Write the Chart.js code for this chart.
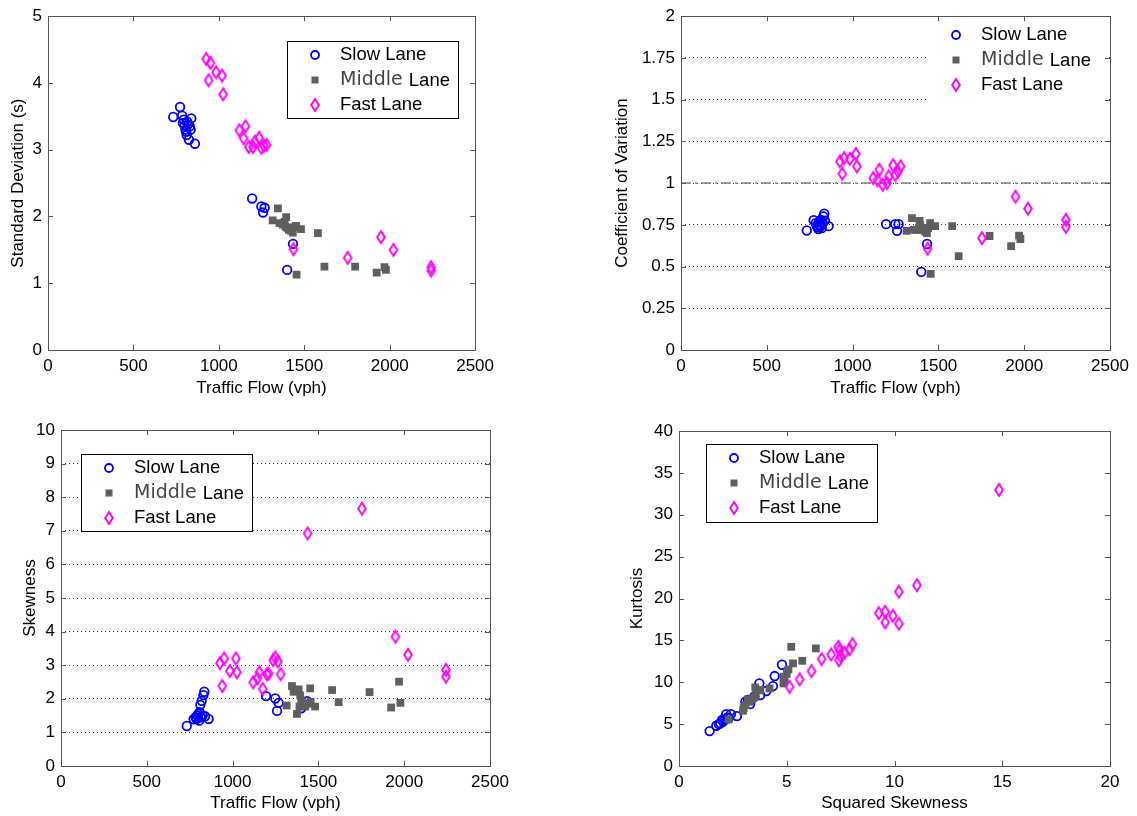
<!DOCTYPE html>
<html>
<head>
<meta charset="utf-8">
<script src="https://cdn.jsdelivr.net/npm/chart.js@4/dist/chart.umd.min.js"></script>
<style>
  body { margin: 0; background: #fff; }
  #wrap { position: relative; width: 1137px; height: 816px; background: #fff; overflow: hidden; }
  canvas { position: absolute; }
</style>
</head>
<body>
<div id="wrap">
  <canvas id="sdChart" width="500" height="400" style="left:0;top:0;width:500px;height:400px"></canvas>
  <canvas id="cvChart" width="537" height="400" style="left:600px;top:0;width:537px;height:400px"></canvas>
  <canvas id="skewChart" width="520" height="406" style="left:0;top:410px;width:520px;height:406px"></canvas>
  <canvas id="kurtChart" width="517" height="406" style="left:620px;top:410px;width:517px;height:406px"></canvas>
</div>
<script>
const laneNames = ['Slow Lane', 'Middle Lane', 'Fast Lane'];

// tick labels
const flowTicks = [0, 500, 1000, 1500, 2000, 2500];
const sdTicks = [0, 1, 2, 3, 4, 5];
const cvTicks = [0, 0.25, 0.5, 0.75, 1, 1.25, 1.5, 1.75, 2];
const skewTicks = [0, 1, 2, 3, 4, 5, 6, 7, 8, 9, 10];
const sqSkewTicks = [0, 5, 10, 15, 20];
const kurtTicks = [0, 5, 10, 15, 20, 25, 30, 35, 40];

// traffic flow (vph) of each sample
const slowFlow = [733, 773, 785, 790, 795, 800, 805, 808, 812, 815, 820, 825, 830, 835, 839, 860, 1195, 1249, 1259, 1268, 1400, 1434];
const middleFlow = [1315, 1346, 1355, 1375, 1385, 1390, 1394, 1400, 1410, 1423, 1433, 1440, 1452, 1455, 1481, 1580, 1618, 1798, 1924, 1970, 1978];
const fastFlow = [926, 940, 951, 984, 1019, 1025, 1120, 1145, 1156, 1175, 1200, 1210, 1236, 1249, 1264, 1280, 1437, 1754, 1949, 2022, 2243, 2243];

// standard deviation (s)
const slowSD = [3.49, 3.64, 3.51, 3.40, 3.45, 3.36, 3.30, 3.27, 3.22, 3.42, 3.38, 3.15, 3.35, 3.30, 3.47, 3.09, 2.27, 2.15, 2.06, 2.13, 1.20, 1.59];
const middleSD = [1.94, 2.12, 1.90, 1.88, 1.92, 1.85, 1.99, 1.83, 1.80, 1.79, 1.76, 1.84, 1.86, 1.13, 1.81, 1.75, 1.25, 1.25, 1.16, 1.24, 1.20];
const fastSD = [4.36, 4.04, 4.30, 4.16, 4.11, 3.83, 3.29, 3.17, 3.35, 3.04, 3.04, 3.12, 3.18, 3.03, 3.06, 3.07, 1.51, 1.38, 1.69, 1.50, 1.24, 1.19];

// coefficient of variation
const slowCV = [0.716, 0.778, 0.760, 0.745, 0.735, 0.725, 0.770, 0.750, 0.740, 0.780, 0.730, 0.760, 0.800, 0.817, 0.775, 0.742, 0.754, 0.754, 0.714, 0.754, 0.468, 0.635];
const middleCV = [0.714, 0.790, 0.720, 0.720, 0.730, 0.774, 0.750, 0.720, 0.730, 0.710, 0.700, 0.730, 0.760, 0.456, 0.742, 0.742, 0.563, 0.683, 0.623, 0.685, 0.665];
const fastCV = [1.13, 1.056, 1.15, 1.145, 1.175, 1.10, 1.03, 1.016, 1.08, 0.99, 1.00, 1.04, 1.107, 1.05, 1.07, 1.10, 0.607, 0.67, 0.919, 0.847, 0.78, 0.738];
const cvRefX = [0, 2500];
const cvRefY = [1, 1];

// skewness
const slowSkew = [1.19, 1.39, 1.45, 1.40, 1.50, 1.55, 1.35, 1.60, 1.82, 1.45, 1.94, 1.50, 2.11, 2.21, 1.48, 1.40, 2.08, 2.01, 1.64, 1.88, 1.72, 1.93];
const middleSkew = [1.80, 2.38, 2.21, 1.55, 2.28, 1.77, 2.10, 1.95, 1.80, 1.77, 1.87, 1.85, 2.31, 1.91, 1.77, 2.26, 1.90, 2.20, 1.74, 2.51, 1.88];
const fastSkew = [3.06, 2.38, 3.20, 2.83, 3.20, 2.79, 2.49, 2.61, 2.79, 2.29, 2.73, 2.75, 3.15, 3.23, 3.11, 2.73, 6.92, 7.66, 3.85, 3.31, 2.86, 2.66];

// squared skewness vs kurtosis
const slowSqSkew = [1.42, 1.73, 1.85, 1.92, 2.00, 2.05, 2.10, 2.19, 2.25, 2.30, 2.41, 2.69, 3.08, 3.20, 3.30, 3.50, 3.73, 3.77, 4.05, 4.36, 4.44, 4.78];
const slowKurt = [4.17, 4.81, 5.00, 5.09, 5.49, 5.30, 5.60, 6.20, 5.80, 5.70, 6.20, 5.96, 7.67, 7.90, 7.40, 8.30, 9.86, 8.47, 8.95, 9.54, 10.74, 12.09];
const middleSqSkew = [2.30, 2.97, 3.00, 3.08, 3.19, 3.30, 3.40, 3.54, 3.54, 3.60, 3.77, 4.20, 4.85, 4.85, 4.90, 5.00, 5.08, 5.21, 5.29, 5.72, 6.35];
const middleKurt = [5.57, 6.60, 6.90, 7.28, 7.95, 7.67, 8.00, 8.27, 9.38, 9.00, 9.07, 9.26, 9.86, 10.66, 10.20, 11.00, 11.53, 14.23, 12.25, 12.56, 14.04];
const fastSqSkew = [5.13, 5.60, 6.15, 6.62, 7.06, 7.39, 7.42, 7.45, 7.50, 7.68, 7.91, 8.05, 9.27, 9.57, 9.57, 9.92, 10.20, 10.20, 11.04, 14.85];
const fastKurt = [9.46, 10.34, 11.33, 12.76, 13.32, 14.23, 12.64, 13.80, 13.10, 13.52, 13.92, 14.55, 18.25, 18.41, 17.14, 17.93, 20.80, 16.98, 21.59, 32.96];

const FONT = { family: '"Liberation Sans", Arial, sans-serif', size: 17 };

// matlab style diamond, taller than wide
let diamond = document.createElement('canvas');
diamond.width = 12;
diamond.height = 16;
let dc = diamond.getContext('2d');
dc.strokeStyle = '#ff00ff';
dc.lineWidth = 2;
dc.beginPath();
dc.moveTo(6, 2);
dc.lineTo(9.8, 8);
dc.lineTo(6, 14);
dc.lineTo(2.2, 8);
dc.closePath();
dc.stroke();

function pts(xs, ys) {
  return xs.map((x, i) => ({ x: x, y: ys[i] }));
}

function lanes(sx, sy, mx, my, fx, fy) {
  return [
    { label: laneNames[0], data: pts(sx, sy), order: 3, pointStyle: 'circle', pointRadius: 4.3,
      pointBorderWidth: 1.8, pointBorderColor: '#0000ff', pointBackgroundColor: 'rgba(0,0,0,0)' },
    { label: laneNames[1], data: pts(mx, my), order: 2, pointStyle: 'rect', pointRadius: 5.5,
      pointBorderWidth: 0, pointBorderColor: '#5f5f5f', pointBackgroundColor: '#5f5f5f' },
    { label: laneNames[2], data: pts(fx, fy), order: 1, pointStyle: diamond, pointRadius: 5,
      pointBorderWidth: 0, pointBorderColor: '#ff00ff', pointBackgroundColor: '#ff00ff' }
  ];
}

const laneLegend = {
  id: 'laneLegend',
  afterDatasetsDraw(chart, args, o) {
    let ctx = chart.ctx;
    ctx.save();
    ctx.fillStyle = '#fff';
    ctx.fillRect(o.x, o.y, o.w, o.h);
    if (o.border) {
      ctx.strokeStyle = '#000';
      ctx.lineWidth = 1;
      ctx.strokeRect(o.x + 0.5, o.y + 0.5, o.w, o.h);
    }
    ctx.textBaseline = 'middle';
    laneNames.forEach((name, i) => {
      let y = o.y + o.row0 + i * 25;
      let mx = o.x + 28;
      let tx = o.x + 53;
      if (i == 0) {
        ctx.strokeStyle = '#0000ff';
        ctx.lineWidth = 1.8;
        ctx.beginPath();
        ctx.arc(mx, y, 4, 0, Math.PI * 2);
        ctx.stroke();
      } else if (i == 1) {
        ctx.fillStyle = '#5f5f5f';
        ctx.fillRect(mx - 3.5, y - 3.5, 7, 7);
      } else {
        ctx.drawImage(diamond, mx - 6, y - 8);
      }
      let parts = name.split(' ');
      if (i == 1) {
        // the word Middle comes out grey and in another face in the original
        ctx.font = '19px "DejaVu Sans", sans-serif';
        ctx.fillStyle = '#444';
        ctx.fillText(parts[0], tx, y);
        tx += ctx.measureText(parts[0] + ' ').width;
        ctx.font = '18.5px "Liberation Sans", Arial, sans-serif';
        ctx.fillStyle = '#000';
        ctx.fillText(parts[1], tx, y + 1);
      } else {
        ctx.font = '18.5px "Liberation Sans", Arial, sans-serif';
        ctx.fillStyle = '#000';
        ctx.fillText(name, tx, y);
      }
    });
    ctx.restore();
  }
};

const boxTicks = {
  id: 'boxTicks',
  afterDraw(chart) {
    let ctx = chart.ctx;
    let a = chart.chartArea;
    let x = chart.scales.x;
    let y = chart.scales.y;
    ctx.save();
    ctx.strokeStyle = '#555';
    ctx.lineWidth = 1;
    ctx.beginPath();
    x.ticks.forEach(t => {
      let px = Math.round(x.getPixelForValue(t.value)) + 0.5;
      ctx.moveTo(px, a.bottom); ctx.lineTo(px, a.bottom - 5);
      ctx.moveTo(px, a.top); ctx.lineTo(px, a.top + 5);
    });
    y.ticks.forEach(t => {
      let py = Math.round(y.getPixelForValue(t.value)) + 0.5;
      ctx.moveTo(a.left, py); ctx.lineTo(a.left + 5, py);
      ctx.moveTo(a.right, py); ctx.lineTo(a.right - 5, py);
    });
    ctx.stroke();
    ctx.strokeRect(Math.round(a.left) + 0.5, Math.round(a.top) + 0.5, Math.round(a.right - a.left), Math.round(a.bottom - a.top));
    ctx.restore();
  }
};

function makeChart(id, o) {
  return new Chart(document.getElementById(id), {
    type: 'scatter',
    data: { datasets: o.datasets },
    options: {
      responsive: false,
      animation: false,
      devicePixelRatio: 1,
      layout: { padding: o.padding },
      plugins: { legend: { display: false }, tooltip: { enabled: false }, laneLegend: o.legend },
      scales: {
        x: {
          type: 'linear', min: o.xTicks[0], max: o.xTicks[o.xTicks.length - 1],
          afterBuildTicks: s => { s.ticks = o.xTicks.map(v => ({ value: v })) },
          afterFit: s => { s.height = 50 },
          grid: { display: false, drawTicks: false },
          border: { display: false },
          ticks: { color: '#000', font: FONT, padding: 6, maxRotation: 0, autoSkip: false, callback: v => String(v) },
          title: { display: true, text: o.xTitle, color: '#000', font: FONT, padding: { top: 0, bottom: o.xTitlePad } }
        },
        y: {
          type: 'linear', min: o.yTicks[0], max: o.yTicks[o.yTicks.length - 1],
          afterBuildTicks: s => { s.ticks = o.yTicks.map(v => ({ value: v })) },
          afterFit: s => { s.width = o.yAxisW },
          grid: { display: o.yGrid, color: '#333', lineWidth: 1, drawTicks: false },
          border: { display: false, dash: [1, 3] },
          ticks: { color: '#000', font: FONT, padding: 6, autoSkip: false, callback: v => String(v) },
          title: { display: true, text: o.yTitle, color: '#000', font: FONT, padding: { top: o.yTitlePad, bottom: 0 } }
        }
      }
    },
    plugins: [laneLegend, boxTicks]
  });
}

makeChart('sdChart', {
  datasets: lanes(slowFlow, slowSD, middleFlow, middleSD, fastFlow, fastSD),
  padding: { top: 14, right: 21, bottom: 0, left: 0 },
  xTicks: flowTicks, yTicks: sdTicks, yAxisW: 48, yGrid: false,
  xTitle: 'Traffic Flow (vph)', yTitle: 'Standard Deviation (s)', xTitlePad: 1, yTitlePad: 8,
  legend: { x: 287, y: 41, w: 171, h: 77, border: true, row0: 14 }
});

let cvSets = lanes(slowFlow, slowCV, middleFlow, middleCV, fastFlow, fastCV);
cvSets.push({
  type: 'line', label: 'ref', data: pts(cvRefX, cvRefY), order: 4, showLine: true,
  borderColor: '#808080', borderWidth: 1.5, borderDash: [10, 4, 2, 4], pointRadius: 0, fill: false
});

makeChart('cvChart', {
  datasets: cvSets,
  padding: { top: 14, right: 27, bottom: 0, left: 0 },
  xTicks: flowTicks, yTicks: cvTicks, yAxisW: 81, yGrid: true,
  xTitle: 'Traffic Flow (vph)', yTitle: 'Coefficient of Variation', xTitlePad: 1, yTitlePad: 12,
  legend: { x: 328, y: 16, w: 180, h: 94, border: false, row0: 19 }
});

makeChart('skewChart', {
  datasets: lanes(slowFlow, slowSkew, middleFlow, middleSkew, fastFlow, fastSkew),
  padding: { top: 20, right: 30, bottom: 0, left: 0 },
  xTicks: flowTicks, yTicks: skewTicks, yAxisW: 61, yGrid: true,
  xTitle: 'Traffic Flow (vph)', yTitle: 'Skewness', xTitlePad: 2, yTitlePad: 20,
  legend: { x: 81, y: 44, w: 171, h: 77, border: true, row0: 14 }
});

makeChart('kurtChart', {
  datasets: lanes(slowSqSkew, slowKurt, middleSqSkew, middleKurt, fastSqSkew, fastKurt),
  padding: { top: 21, right: 27, bottom: 0, left: 0 },
  xTicks: sqSkewTicks, yTicks: kurtTicks, yAxisW: 59, yGrid: false,
  xTitle: 'Squared Skewness', yTitle: 'Kurtosis', xTitlePad: 2, yTitlePad: 7,
  legend: { x: 86, y: 34, w: 171, h: 78, border: true, row0: 14 }
});
</script>
</body>
</html>
